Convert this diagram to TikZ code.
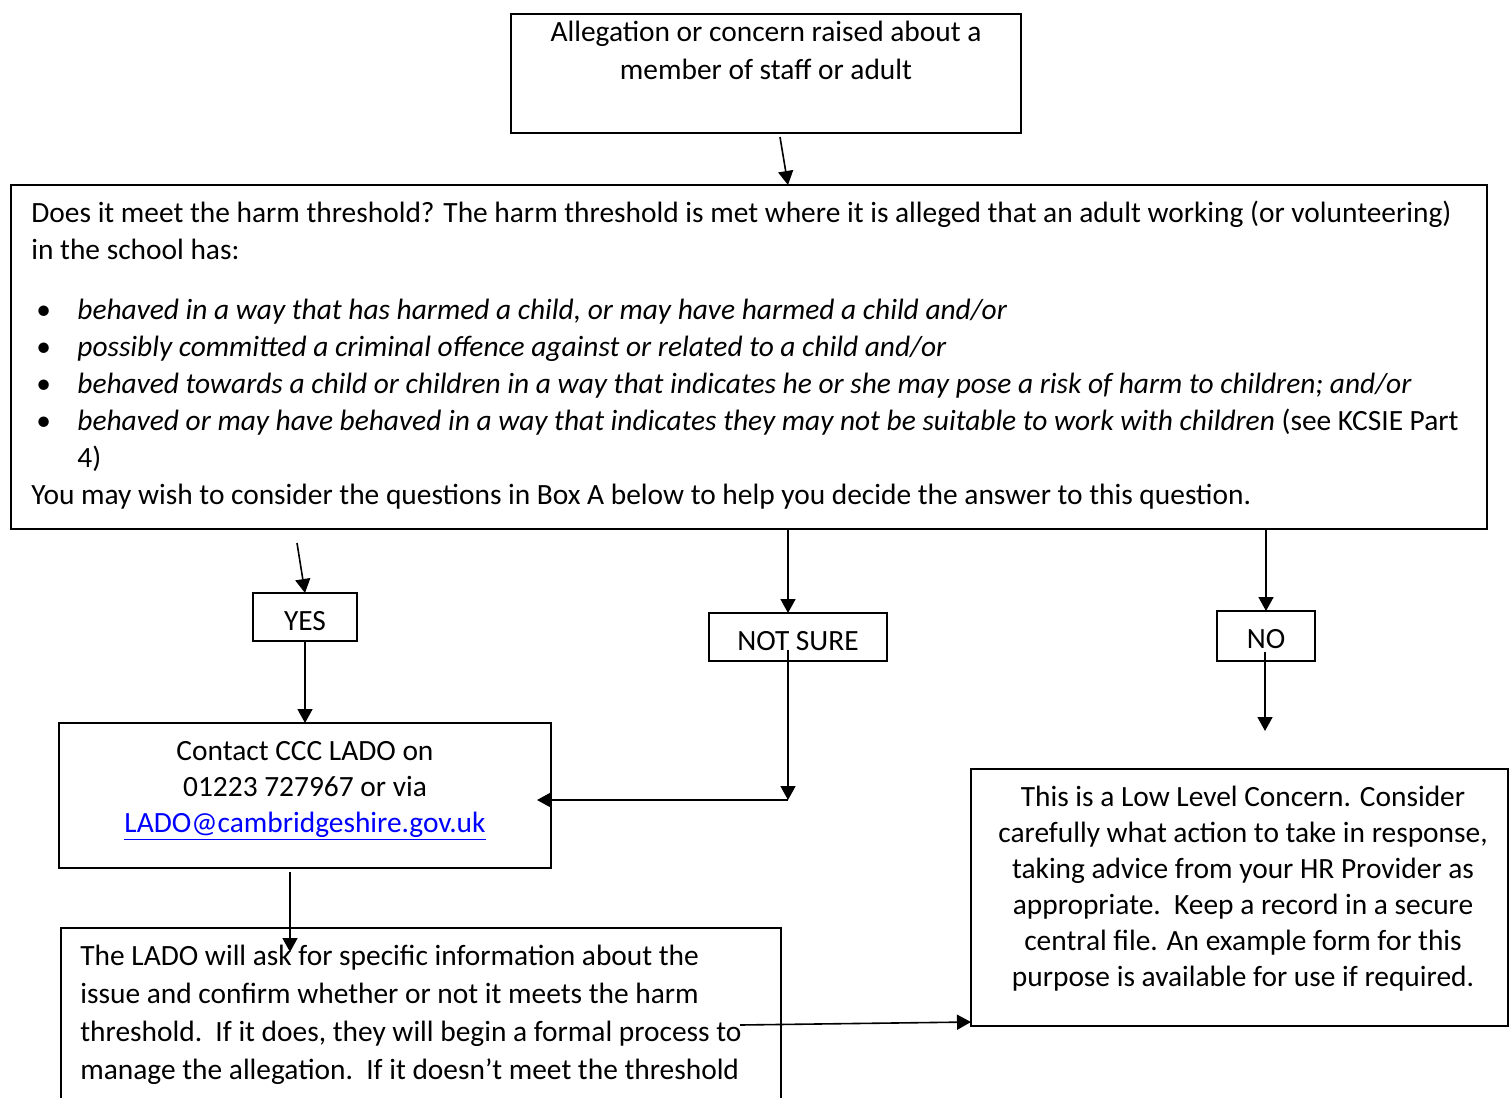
\documentclass[tikz,border=0pt]{standalone}
\usepackage{fontspec}
\setmainfont{Carlito}
\usetikzlibrary{arrows.meta}
\usetikzlibrary{calc}
\definecolor{linkBlue}{HTML}{0000FF}
\newcommand{\harmbullet}{\makebox[23pt][l]{\hspace{2.5pt}\textbullet}}

\begin{document}
\begin{tikzpicture}[x=0.5pt, y=-0.5pt,
  flowbox/.style={draw, line width=0.9pt, inner sep=0pt, outer sep=0pt, anchor=north west},
  flowtext/.style={inner sep=0pt, anchor=base, font=\fontsize{14.7}{19}\selectfont},
  flowarrow/.style={line width=0.8pt, -{Triangle[length=7pt, width=7.5pt]}}]
  \useasboundingbox (0,0) rectangle (1509,1097);

  % boxes
  \node[flowbox, minimum width=255pt, minimum height=59.5pt] (concern) at (511,14) {};
  \node[flowbox, minimum width=738pt, minimum height=172pt] (threshold) at (11,185) {};
  \node[flowbox, minimum width=52pt, minimum height=24pt] (yes) at (253,593) {};
  \node[flowbox, minimum width=89pt, minimum height=24pt] (notsure) at (709,613) {};
  \node[flowbox, minimum width=49pt, minimum height=25pt] (no) at (1217,611) {};
  \node[flowbox, minimum width=246pt, minimum height=72.5pt] (contact) at (59,723) {};
  \node[flowbox, minimum width=360pt, minimum height=140pt] (lado) at (61,928) {};
  \node[flowbox, minimum width=268.5pt, minimum height=128.5pt] (lowlevel) at (971,769) {};

  % texts (base = baseline of the last line)
  \node[flowtext, align=center] (concerntext) at (766,80)
    {Allegation or concern raised about a\\member of staff or adult};
  \node[flowtext, align=left, anchor=base west, font=\fontsize{14.7}{18.5}\selectfont] (thresholdtext) at (31,504)
    {Does it meet the harm threshold? The harm threshold is met where it is alleged that an adult working (or volunteering)\\
     in the school has:\\[11.5pt]
     \harmbullet\textit{behaved in a way that has harmed a child, or may have harmed a child and/or}\\
     \harmbullet\textit{possibly committed a criminal offence against or related to a child and/or}\\
     \harmbullet\textit{behaved towards a child or children in a way that indicates he or she may pose a risk of harm to children; and/or}\\
     \harmbullet\textit{behaved or may have behaved in a way that indicates they may not be suitable to work with children} (see KCSIE Part\\
     \hspace*{23pt}4)\\
     You may wish to consider the questions in Box A below to help you decide the answer to this question.};
  \node[flowtext] (yestext) at (305,630) {YES};
  \node[flowtext] (notsuretext) at (798,650) {NOT SURE};
  \node[flowtext] (notext) at (1266,648) {NO};
  \node[flowtext, align=center, font=\fontsize{14.7}{18}\selectfont] (contacttext) at (305,832)
    {Contact CCC LADO on\\01223 727967 or via\\\textcolor{linkBlue}{\underline{LADO@cambridgeshire.gov.uk}}};
  \node[flowtext, align=left, anchor=base west] (ladotext) at (80,1079)
    {The LADO will ask for specific information about the\\
     issue and confirm whether or not it meets the harm\\
     threshold.\ \ If it does, they will begin a formal process to\\
     manage the allegation.\ \ If it doesn’t meet the threshold};
  \node[flowtext, align=center, font=\fontsize{14.7}{18}\selectfont] (lowleveltext) at (1243,986)
    {This is a Low Level Concern. Consider\\
     carefully what action to take in response,\\
     taking advice from your HR Provider as\\
     appropriate.\ \ Keep a record in a secure\\
     central file. An example form for this\\
     purpose is available for use if required.};

  % connectors
  \coordinate (concernout) at (780,137);
  \draw[flowarrow] (concernout) -- ($(threshold.north)+(39,0)$);
  \coordinate (yesin) at (297,543);
  \draw[flowarrow] (yesin) -- (yes.north);
  \draw[flowarrow] (yes.south) -- (contact.north);
  \coordinate (notsurein) at (788,529);
  \draw[flowarrow] (notsurein) -- (notsure.north -| notsurein);
  \coordinate (notsureout) at (788,650);
  \coordinate (notsureturn) at (788,800);
  \draw[flowarrow] (notsureout) -- (notsureturn);
  \draw[flowarrow] (notsureturn) -- ($(contact.east |- notsureturn)+(-14,0)$);
  \draw[flowarrow] (threshold.south -| no) -- (no.north);
  \coordinate (noout) at (1265,652);
  \coordinate (noend) at (1265,731);
  \draw[flowarrow] (noout) -- (noend);
  \coordinate (contactout) at (290,872);
  \coordinate (ladoin) at (290,952);
  \draw[flowarrow] (contactout) -- (ladoin);
  \coordinate (ladoout) at (740,1025);
  \draw[flowarrow] (ladoout) -- ($(lowlevel.south west)+(0,-4)$);
\end{tikzpicture}
\end{document}
